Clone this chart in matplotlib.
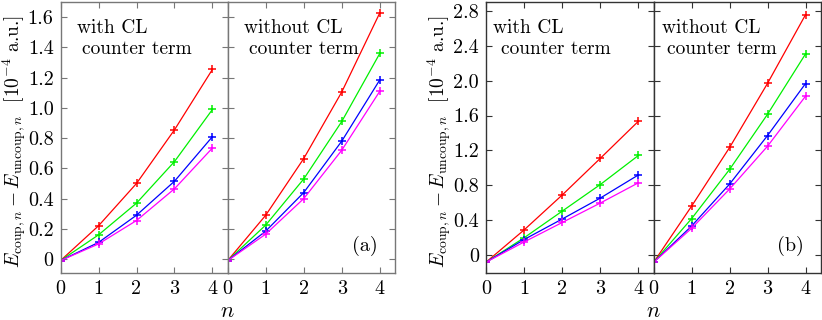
import matplotlib
matplotlib.use('Agg')
import matplotlib.pyplot as plt
from matplotlib.ticker import FuncFormatter, MultipleLocator

plt.rcParams['font.family'] = 'cmr10'
plt.rcParams['mathtext.fontset'] = 'cm'
plt.rcParams['axes.unicode_minus'] = False

n = [0, 1, 2, 3, 4]
colors = ['#ff0000', '#00f000', '#0000ff', '#ff00ff']

# (a) left figure: with / without CL counter term
a_with_red = [-0.01, 0.22, 0.50, 0.855, 1.255]
a_with_green = [-0.01, 0.16, 0.37, 0.645, 0.99]
a_with_blue = [-0.01, 0.11, 0.29, 0.515, 0.81]
a_with_magenta = [-0.01, 0.10, 0.255, 0.465, 0.735]

a_wo_red = [-0.01, 0.29, 0.665, 1.105, 1.628]
a_wo_green = [-0.01, 0.225, 0.53, 0.91, 1.36]
a_wo_blue = [-0.01, 0.185, 0.44, 0.78, 1.185]
a_wo_magenta = [-0.01, 0.165, 0.40, 0.72, 1.11]

# (b) right figure
b_with_red = [-0.08, 0.29, 0.69, 1.11, 1.535]
b_with_green = [-0.08, 0.20, 0.505, 0.81, 1.143]
b_with_blue = [-0.08, 0.18, 0.415, 0.655, 0.92]
b_with_magenta = [-0.08, 0.152, 0.375, 0.598, 0.83]

b_wo_red = [-0.08, 0.563, 1.234, 1.969, 2.754]
b_wo_green = [-0.08, 0.42, 0.983, 1.615, 2.305]
b_wo_blue = [-0.08, 0.335, 0.815, 1.371, 1.966]
b_wo_magenta = [-0.08, 0.309, 0.758, 1.249, 1.821]

W, H = 822, 320
fig = plt.figure(figsize=(W / 100, H / 100), dpi=100)


def px_axes(x0, x1, y0, y1):
    return fig.add_axes([x0 / W, 1 - y1 / H, (x1 - x0) / W, (y1 - y0) / H])


def fmt(v, pos):
    return '0' if abs(v) < 1e-9 else '%.1f' % v


def style(ax, ylim, ystep, spine_col, show_ylabels):
    ax.set_xlim(0, 4.4)
    ax.set_ylim(*ylim)
    ax.xaxis.set_major_locator(MultipleLocator(1))
    ax.yaxis.set_major_locator(MultipleLocator(ystep))
    ax.yaxis.set_major_formatter(FuncFormatter(fmt))
    ax.tick_params(direction='in', top=True, right=True, length=4.5,
                   width=0.8, color=spine_col, labelsize=14.5, pad=5)
    if not show_ylabels:
        ax.tick_params(labelleft=False)
    for s in ax.spines.values():
        s.set_color(spine_col)
        s.set_linewidth(1.0)


def draw(ax, series):
    for ys, c in zip(series, colors):
        ax.plot(n, ys, color=c, lw=0.9, marker='+', ms=6, mew=1.1)


panels = [
    (px_axes(60.5, 227.7, 2, 272.7), [a_with_red, a_with_green, a_with_blue, a_with_magenta],
     (-0.09, 1.7), 0.2, '#777777', True, ('with CL', 0.099, 0.128)),
    (px_axes(227.7, 395, 2, 272.7), [a_wo_red, a_wo_green, a_wo_blue, a_wo_magenta],
     (-0.09, 1.7), 0.2, '#777777', False, ('without CL', 0.097, 0.127)),
    (px_axes(486, 653.7, 2, 272.7), [b_with_red, b_with_green, b_with_blue, b_with_magenta],
     (-0.2, 2.9), 0.4, '#333333', True, ('with CL', 0.042, 0.088)),
    (px_axes(653.7, 820.7, 2, 272.7), [b_wo_red, b_wo_green, b_wo_blue, b_wo_magenta],
     (-0.2, 2.9), 0.4, '#333333', False, ('without CL', 0.048, 0.08)),
]

for ax, series, ylim, ystep, sc, showy, (t1, x1, x2) in panels:
    draw(ax, series)
    style(ax, ylim, ystep, sc, showy)
    ax.text(x1, 0.904, t1, transform=ax.transAxes, fontsize=14, va='center', ha='left')
    ax.text(x2, 0.826, 'counter term', transform=ax.transAxes, fontsize=14,
            va='center', ha='left')

panels[1][0].text(0.82, 0.10, '(a)', transform=panels[1][0].transAxes, fontsize=14.5,
                  ha='center', va='center')
panels[3][0].text(0.816, 0.10, '(b)', transform=panels[3][0].transAxes, fontsize=14.5,
                  ha='center', va='center')

ylab = r'$E_{\mathrm{coup},n} - E_{\mathrm{uncoup},n}$  [10$^{-4}$ a.u.]'
fig.text(14 / W, 1 - 142 / H, ylab, rotation=90, ha='center', va='center', fontsize=14)
fig.text(439 / W, 1 - 142 / H, ylab, rotation=90, ha='center', va='center', fontsize=14)
fig.text(227.7 / W, 1 - 311 / H, r'$n$', ha='center', va='center', fontsize=16)
fig.text(653.7 / W, 1 - 311 / H, r'$n$', ha='center', va='center', fontsize=16)

fig.savefig('out.png', dpi=100)
